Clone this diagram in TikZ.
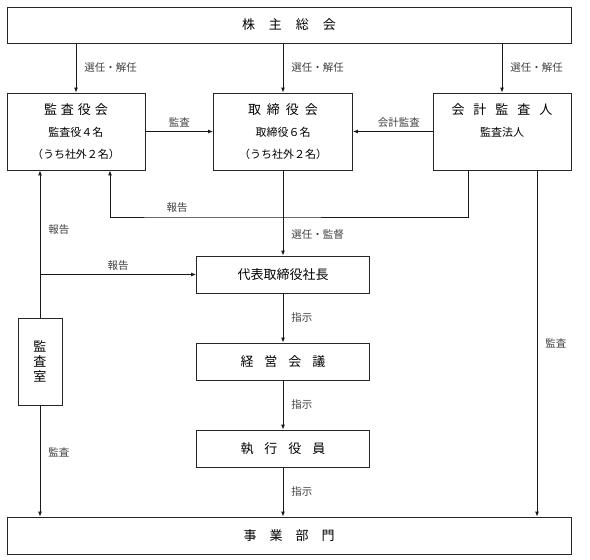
\documentclass[tikz,border=0pt]{standalone}
\usepackage{fontspec}
\setmainfont{Noto Sans CJK JP}
\usetikzlibrary{arrows.meta}

\begin{document}
\begin{tikzpicture}[x=1pt, y=-1pt,
    box/.style={draw=black!85, line width=0.8pt, rectangle, inner sep=0pt, align=center,
        font=\fontsize{13}{22}\selectfont},
    arr/.style={draw=black!90, line width=0.9pt, -{Latex[length=5pt,width=4pt]}},
    lbl/.style={font=\fontsize{10.5}{12}\selectfont, text=black!75, inner sep=2pt}]
    \useasboundingbox (0,0) rectangle (590,560);

    % boxes
    \node[box, minimum width=564, minimum height=36] (share) at (289,25)
        {株\hspace{14pt}主\hspace{14pt}総\hspace{14pt}会};
    \node[box, minimum width=138, minimum height=77] (kansa) at (76,131.5)
        {監\hspace{4pt}査\hspace{4pt}役\hspace{4pt}会\\
        {\fontsize{11}{13}\selectfont 監査役４名}\\
        {\fontsize{11}{13}\selectfont （うち社外２名）}};
    \node[box, minimum width=139, minimum height=77] (tori) at (283,131.5)
        {取\hspace{6pt}締\hspace{6pt}役\hspace{6pt}会\\
        {\fontsize{11}{13}\selectfont 取締役６名}\\
        {\fontsize{11}{13}\selectfont （うち社外２名）}};
    \node[box, minimum width=138, minimum height=77] (kaikei) at (502,131.5)
        {会\hspace{9pt}計\hspace{9pt}監\hspace{9pt}査\hspace{9pt}人\\
        {\fontsize{11}{13}\selectfont 監査法人}\\ \mbox{}};
    \node[box, minimum width=173, minimum height=37] (daihyo) at (283,274.5) {代表取締役社長};
    \node[box, minimum width=173, minimum height=37] (keiei) at (283,361.5)
        {経\hspace{11pt}営\hspace{11pt}会\hspace{11pt}議};
    \node[box, minimum width=173, minimum height=37] (shikko) at (283,448.5)
        {執\hspace{11pt}行\hspace{11pt}役\hspace{11pt}員};
    \node[box, minimum width=564, minimum height=37] (jigyo) at (289,535.5)
        {事\hspace{13pt}業\hspace{13pt}部\hspace{13pt}門};
    \node[box, minimum width=44, minimum height=87, font=\fontsize{13}{15}\selectfont]
        (shitsu) at (40,361.5) {監\\査\\室};

    % from the shareholders
    \draw[arr] (share.south -| kansa.north) -- node[lbl, right=6pt] {選任・解任} (kansa.north);
    \draw[arr] (share.south -| tori.north) -- node[lbl, right=6pt] {選任・解任} (tori.north);
    \draw[arr] (share.south -| kaikei.north) -- node[lbl, right=6pt] {選任・解任} (kaikei.north);

    % audits between the upper boxes
    \draw[arr] (kansa.east) -- node[lbl, above=2pt] {監査} (tori.west);
    \draw[arr] (kaikei.west) -- node[lbl, above=2pt, xshift=6pt] {会計監査} (tori.east);
    \coordinate (rep) at (177,217);
    \draw[arr] ([xshift=-34pt]kaikei.south) |- (rep) -| ([xshift=34pt]kansa.south);
    \node[lbl, above=2pt] (replbl) at (rep) {報告};
    \draw[arr] ([xshift=35pt]kaikei.south) -- node[lbl, right=6pt] {監査}
        ([xshift=35pt]kaikei.south |- jigyo.north);

    % line of command
    \draw[arr] (tori.south) -- node[lbl, right=6pt, pos=0.75] {選任・監督} (daihyo.north);
    \draw[arr] (daihyo.south) -- node[lbl, right=6pt] {指示} (keiei.north);
    \draw[arr] (keiei.south) -- node[lbl, right=6pt] {指示} (shikko.north);
    \draw[arr] (shikko.south) -- node[lbl, right=6pt] {指示} (shikko.south |- jigyo.north);

    % audit office
    \draw[arr] (shitsu.north) -- node[lbl, right=6pt, pos=0.6] {報告} (shitsu.north |- kansa.south);
    \draw[arr] (shitsu.north |- daihyo.west) -- node[lbl, above=2pt] {報告} (daihyo.west);
    \draw[arr] (shitsu.south) -- node[lbl, right=6pt, pos=0.42] {監査} (shitsu.south |- jigyo.north);
\end{tikzpicture}
\end{document}
